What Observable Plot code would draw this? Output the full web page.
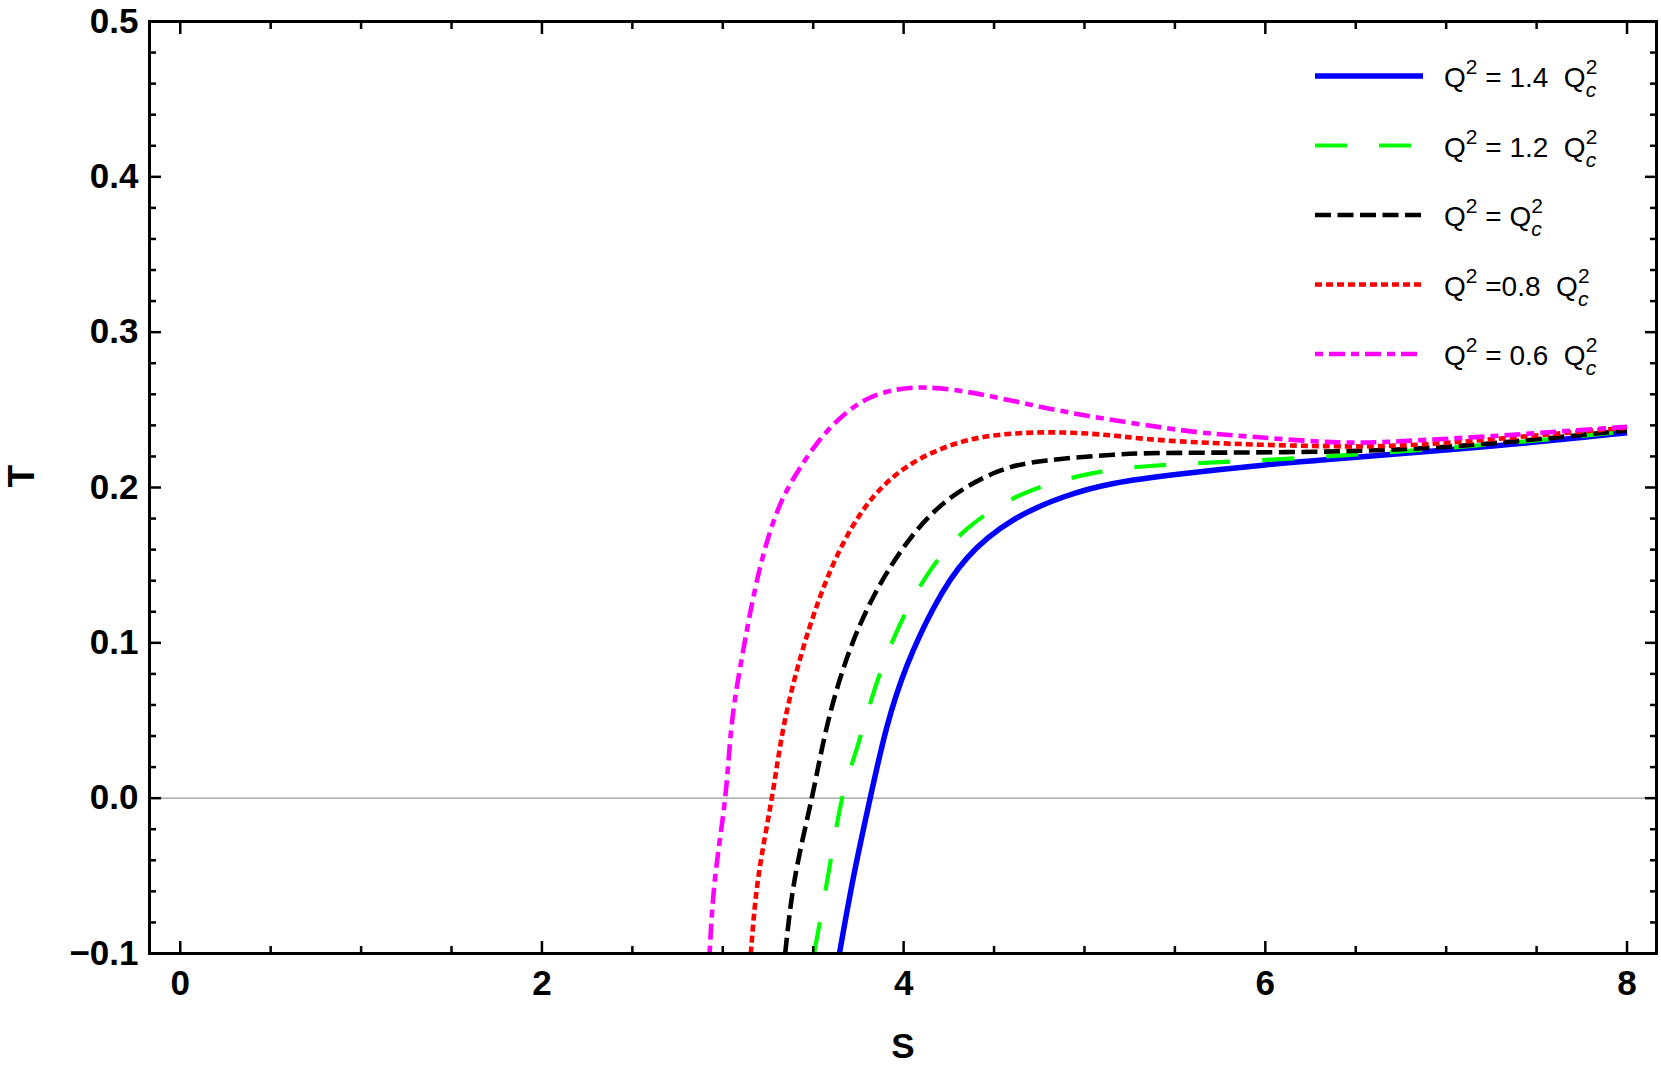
<!DOCTYPE html>
<html>
<head>
<meta charset="utf-8">
<script src="https://cdn.jsdelivr.net/npm/d3@7"></script>
<script src="https://cdn.jsdelivr.net/npm/@observablehq/plot@0.6"></script>
<style>
  html, body { margin: 0; padding: 0; background: #fff; }
  #chart { position: relative; width: 1661px; height: 1071px; }
</style>
</head>
<body>
<div id="chart"></div>
<script>
// ---- data (S, T) ----
const q14 = [[3.645,-0.1],[3.723,-0.0506],[3.815,0],[3.907,0.0457],[4.018,0.0852],[4.165,0.1223],[4.349,0.1544],[4.607,0.1791],[4.884,0.1939],[5.160,0.2026],[5.529,0.2087],[6.0,0.2145],[6.468,0.2191],[7.259,0.2267],[8.0,0.2352]];
const q12 = [[3.505,-0.1],[3.581,-0.0506],[3.66,0],[3.735,0.0296],[3.835,0.0684],[3.958,0.1062],[4.128,0.1433],[4.357,0.174],[4.662,0.196],[4.976,0.2075],[5.345,0.2137],[6.034,0.218],[6.765,0.2234],[7.456,0.2299],[8.0,0.2363]];
const q10 = [[3.345,-0.1],[3.400,-0.0506],[3.492,0],[3.575,0.0457],[3.686,0.090],[3.833,0.1297],[4.018,0.1643],[4.239,0.1915],[4.515,0.210],[4.792,0.2174],[5.160,0.2211],[5.529,0.2223],[6.27,0.2230],[7.06,0.2267],[8.0,0.2368]];
const q08 = [[3.155,-0.1],[3.197,-0.0506],[3.271,0],[3.336,0.0457],[3.428,0.090],[3.538,0.1297],[3.667,0.1643],[3.833,0.194],[4.054,0.216],[4.331,0.2297],[4.607,0.2347],[4.884,0.2354],[5.160,0.2334],[5.529,0.2297],[6.271,0.2267],[6.864,0.2277],[7.456,0.2331],[8.0,0.2385]];
const q06 = [[2.927,-0.1],[2.958,-0.0506],[3.013,0],[3.050,0.048],[3.105,0.090],[3.161,0.1248],[3.225,0.157],[3.317,0.189],[3.446,0.216],[3.594,0.2384],[3.778,0.2557],[3.962,0.263],[4.128,0.2643],[4.331,0.2619],[4.607,0.2557],[4.976,0.247],[5.529,0.237],[5.876,0.2331],[6.369,0.2292],[6.765,0.2299],[7.259,0.2331],[7.653,0.2363],[8.0,0.239]];

const seriesData = [q14, q12, q10, q08, q06];
const coefLabels = ["= 1.4  ", "= 1.2  ", "= ", "=0.8  ", "= 0.6  "];

const xMajor = [0, 2, 4, 6, 8];
const xMinor = [0.5, 1, 1.5, 2.5, 3, 3.5, 4.5, 5, 5.5, 6.5, 7, 7.5];
const yMajor = [-0.1, 0, 0.1, 0.2, 0.3, 0.4, 0.5];
const yMinor = [-0.08, -0.06, -0.04, -0.02, 0.02, 0.04, 0.06, 0.08, 0.12, 0.14, 0.16, 0.18, 0.22, 0.24, 0.26, 0.28, 0.32, 0.34, 0.36, 0.38, 0.42, 0.44, 0.46, 0.48];

// ---- styles ----
const styles = [
  {color: "#0000ff", width: 5.5, dash: null},
  {color: "#00ff00", width: 4.2, dash: "32,32"},
  {color: "#000000", width: 4.6, dash: "16,6.5"},
  {color: "#ff0000", width: 4.6, dash: "7,4"},
  {color: "#ff00ff", width: 4.6, dash: "8,6,16,6"}
];

const font = "'Liberation Sans', Arial, Helvetica, sans-serif";
const tickW = 2.5;
const lblFont = 35;

const lineMarks = seriesData.map((d, i) => Plot.line(d, {
  x: p => p[0], y: p => p[1],
  stroke: styles[i].color, strokeWidth: styles[i].width,
  strokeDasharray: styles[i].dash, strokeLinecap: "butt",
  curve: "natural", clip: true
}));

const blank = () => "";

const plot = Plot.plot({
  width: 1661, height: 1071,
  marginLeft: 149, marginRight: 5, marginTop: 21, marginBottom: 118,
  style: {fontFamily: font, background: "white", overflow: "visible"},
  x: {domain: [-0.17, 8.163]},
  y: {domain: [-0.1, 0.5]},
  marks: [
    Plot.ruleY([0], {stroke: "#999999", strokeWidth: 1.3}),
    ...lineMarks,
    Plot.frame({stroke: "black", strokeWidth: 3}),
    // inward ticks, all four sides
    Plot.axisX(xMajor, {anchor: "bottom", tickSize: -12, tickFormat: blank, strokeWidth: tickW, label: null}),
    Plot.axisX(xMinor, {anchor: "bottom", tickSize: -7, tickFormat: blank, strokeWidth: tickW, label: null}),
    Plot.axisX(xMajor, {anchor: "top", tickSize: -12, tickFormat: blank, strokeWidth: tickW, label: null}),
    Plot.axisX(xMinor, {anchor: "top", tickSize: -7, tickFormat: blank, strokeWidth: tickW, label: null}),
    Plot.axisY(yMajor, {anchor: "left", tickSize: -12, tickFormat: blank, strokeWidth: tickW, label: null}),
    Plot.axisY(yMinor, {anchor: "left", tickSize: -7, tickFormat: blank, strokeWidth: tickW, label: null}),
    Plot.axisY(yMajor, {anchor: "right", tickSize: -12, tickFormat: blank, strokeWidth: tickW, label: null}),
    Plot.axisY(yMinor, {anchor: "right", tickSize: -7, tickFormat: blank, strokeWidth: tickW, label: null}),
    // tick labels
    Plot.axisX(xMajor, {anchor: "bottom", tickSize: 0, tickPadding: 17, tickFormat: d3.format("d"), fontSize: lblFont, fontWeight: "bold", label: null}),
    Plot.axisY(yMajor, {anchor: "left", tickSize: 0, tickPadding: 11, tickFormat: d3.format(".1f"), fontSize: lblFont, fontWeight: "bold", label: null}),
    // axis titles
    Plot.text(["S"], {frameAnchor: "bottom", dy: 93, text: d => d, fontSize: lblFont, fontWeight: "bold", lineAnchor: "middle"}),
    Plot.text(["T"], {frameAnchor: "left", dx: -127, text: d => d, rotate: -90, fontSize: lblFont + 2, fontWeight: "bold", lineAnchor: "middle"})
  ]
});

// make sure each curve keeps its own stroke width
d3.select(plot).selectAll('g[aria-label="line"]').each(function(_, i) {
  if (!styles[i]) return;
  d3.select(this).attr("stroke-width", styles[i].width)
    .selectAll("path").attr("stroke-width", styles[i].width);
});

const wrap = d3.select("#chart");
wrap.node().appendChild(plot);

// ---- legend overlay ----
const leg = wrap.append("svg")
  .attr("width", 1661).attr("height", 1071)
  .style("position", "absolute").style("left", "0px").style("top", "0px")
  .style("pointer-events", "none")
  .attr("font-family", font);

const legX1 = 1315, legX2 = 1423, legTextX = 1444, legTop = 76, legStep = 69.5;
const baseFs = 28, scriptFs = 21;

styles.forEach((s, i) => {
  const y = legTop + i * legStep;
  leg.append("line")
    .attr("x1", legX1).attr("x2", legX2).attr("y1", y).attr("y2", y)
    .attr("stroke", s.color).attr("stroke-width", s.width)
    .attr("stroke-dasharray", s.dash);
  const t = leg.append("text")
    .attr("x", legTextX).attr("y", y + 11)
    .attr("font-size", baseFs).attr("fill", "black")
    .style("white-space", "pre");
  t.append("tspan").text("Q");
  t.append("tspan").attr("font-size", scriptFs).attr("dy", -13).text("2");
  t.append("tspan").attr("font-size", baseFs).attr("dy", 13).text(" " + coefLabels[i] + "Q");
  t.append("tspan").attr("font-size", scriptFs).attr("dy", -13).text("2");
  t.append("tspan").attr("font-size", scriptFs).attr("font-style", "italic")
    .attr("dx", -scriptFs * 0.556).attr("dy", 23).text("c");
});
</script>
</body>
</html>
